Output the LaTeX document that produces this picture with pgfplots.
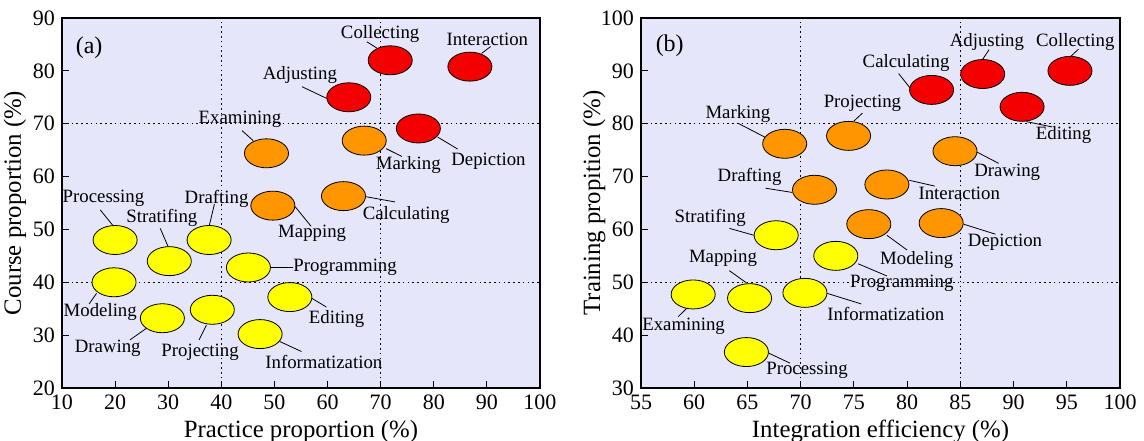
\documentclass[border=0pt]{standalone}
\usepackage{fontspec}
\setmainfont{Liberation Serif}
\usepackage{pgfplots}
\pgfplotsset{compat=1.18}
\definecolor{bgc}{RGB}{230,230,250}
\definecolor{cred}{RGB}{245,0,0}
\definecolor{corange}{RGB}{255,150,0}
\definecolor{cyellow}{RGB}{255,255,0}
\pgfplotsset{
  panel/.style={
    scale only axis, height=185pt, clip=false,
    axis background/.style={fill=bgc},
    axis line style={black, line width=0.6pt},
    tick align=inside, tick pos=left, major tick length=3.5pt,
    tick style={black, line width=0.5pt},
    /pgf/number format/assume math mode=true,
    tick label style={font=\fontsize{11}{13}\selectfont},
    label style={font=\fontsize{12.4}{14}\selectfont},
    xlabel style={at={(axis description cs:0.5,0)}, anchor=base, yshift=-24.5pt},
    ylabel style={at={([xshift=-20.5pt]axis description cs:0,0.5)}, anchor=base},
  },
  ell/.style={only marks, mark=*, mark size=7.25pt,
    mark options={draw=black, fill=#1, xscale=1.52, line width=0.4pt}},
  lbl/.style={only marks, mark=none, nodes near coords, point meta=explicit symbolic,
    nodes near coords style={anchor=center, inner sep=0pt, font=\fontsize{9.4}{11}\selectfont, text=black}},
  dot/.style={black, line width=0.7pt, dash pattern=on 0.8pt off 1.6pt},
  lead/.style={black, line width=0.4pt, unbounded coords=jump},
}
\begin{document}
\begin{tikzpicture}
\useasboundingbox (-31pt,-26pt) rectangle (541pt,194pt);
\begin{axis}[panel, width=239pt,
  xmin=10, xmax=100, ymin=20, ymax=90,
  xtick={10,20,...,100}, ytick={20,30,...,90},
  xlabel={Practice proportion (\%)}, ylabel={Course proportion (\%)}]
\addplot[dot] coordinates {(40,20) (40,90)};
\addplot[dot] coordinates {(70,20) (70,90)};
\addplot[dot] coordinates {(10,40) (100,40)};
\addplot[dot] coordinates {(10,70) (100,70)};
\addplot[lead] coordinates {
(67.4,85.5)(69.3,84.3)(nan,nan)
(90.7,84.6)(89.0,83.3)(nan,nan)
(55.2,77.0)(59.8,74.8)(nan,nan)
(80.7,67.5)(84.5,65.2)(nan,nan)
(71.0,65.3)(74.0,63.8)(nan,nan)
(43.9,68.7)(46.0,66.8)(nan,nan)
(67.2,56.2)(72.7,55.2)(nan,nan)
(53.9,54.3)(56.9,50.6)(nan,nan)
(17.2,53.7)(19.7,50.6)(nan,nan)
(28.5,50.2)(30.0,46.7)(nan,nan)
(38.7,54.8)(37.7,50.6)(nan,nan)
(49.2,42.8)(53.5,42.8)(nan,nan)
(15.1,35.9)(16.5,37.9)(nan,nan)
(57.0,37.0)(59.8,35.3)(nan,nan)
(22.8,29.1)(25.9,31.3)(nan,nan)
(35.8,29.1)(37.2,31.9)(nan,nan)
(51.0,28.8)(55.1,26.9)};
\addplot[ell=cred] coordinates {(71.8,82.0) (86.8,80.8) (64.0,75.0) (77.1,69.1)};
\addplot[ell=corange] coordinates {(66.9,66.8) (48.5,64.4) (63.0,56.3) (49.7,54.5)};
\addplot[ell=cyellow] coordinates {(20.0,48.0) (30.2,44.0) (37.7,48.0) (45.1,42.8) (19.8,40.0) (52.9,37.2) (28.9,33.2) (38.3,34.8) (47.3,30.2)};
\addplot[lbl] table[x=x, y=y, meta=t] {
x y t
69.9 87.0 Collecting
90.1 86.0 Interaction
54.8 79.2 Adjusting
90.3 62.9 Depiction
75.2 62.2 Marking
43.5 70.9 Examining
74.8 52.7 Calculating
57.1 49.3 Mapping
17.8 55.8 Processing
28.8 52.1 Stratifing
39.1 55.8 Drafting
63.3 42.8 Programming
17.2 34.4 Modeling
61.7 33.1 Editing
18.6 27.5 Drawing
36.0 26.7 Projecting
59.3 25.0 Informatization
};
\node[font=\fontsize{12}{14}\selectfont] at (axis cs:15.1,84.3) {(a)};
\end{axis}
\begin{axis}[panel, width=239.5pt, at={(289.5pt,0)},
  xmin=55, xmax=100, ymin=30, ymax=100,
  xtick={55,60,...,100}, ytick={30,40,...,100},
  xlabel={Integration efficiency (\%)}, ylabel={Training propition (\%)}]
\addplot[dot] coordinates {(70,30) (70,100)};
\addplot[dot] coordinates {(85,30) (85,100)};
\addplot[dot] coordinates {(55,50) (100,50)};
\addplot[dot] coordinates {(55,80) (100,80)};
\addplot[lead] coordinates {
(87.7,94.0)(87.1,92.2)(nan,nan)
(96.1,94.1)(95.3,92.6)(nan,nan)
(79.2,89.5)(80.3,86.7)(nan,nan)
(91.2,80.4)(93.6,79.4)(nan,nan)
(86.5,74.7)(88.6,72.5)(nan,nan)
(80.2,69.3)(82.6,68.2)(nan,nan)
(85.3,61.0)(88.3,59.1)(nan,nan)
(78.1,58.9)(80.0,56.1)(nan,nan)
(75.4,53.5)(78.1,51.2)(nan,nan)
(72.5,47.9)(75.7,45.9)(nan,nan)
(75.0,80.5)(75.8,82.0)(nan,nan)
(64.1,80.1)(66.7,77.4)(nan,nan)
(66.7,67.8)(69.2,67.0)(nan,nan)
(63.3,60.2)(65.6,58.9)(nan,nan)
(63.3,52.2)(64.9,49.9)(nan,nan)
(58.5,43.5)(59.3,45.1)(nan,nan)
(67.0,36.6)(69.0,34.7)};
\addplot[ell=cred] coordinates {(87.1,89.4) (95.3,90.0) (82.3,86.4) (90.8,83.2)};
\addplot[ell=corange] coordinates {(74.5,77.7) (68.5,76.2) (84.5,74.8) (78.1,68.5) (71.3,67.5) (83.2,61.2) (76.4,61.0)};
\addplot[ell=cyellow] coordinates {(67.7,58.9) (73.3,55.0) (59.9,47.7) (65.2,47.0) (70.4,48.0) (64.9,36.8)};
\addplot[lbl] table[x=x, y=y, meta=t] {
x y t
87.5 95.5 Adjusting
95.8 95.5 Collecting
79.9 91.5 Calculating
94.7 77.9 Editing
89.4 70.9 Drawing
84.9 66.8 Interaction
89.2 57.5 Depiction
80.9 54.2 Modeling
79.5 49.9 Programming
78.0 44.1 Informatization
75.8 83.9 Projecting
64.1 81.8 Marking
65.2 69.9 Drafting
61.5 62.1 Stratifing
62.7 54.5 Mapping
59.0 41.7 Examining
70.6 33.3 Processing
};
\node[font=\fontsize{12}{14}\selectfont] at (axis cs:57.7,94.8) {(b)};
\end{axis}
\end{tikzpicture}
\end{document}
